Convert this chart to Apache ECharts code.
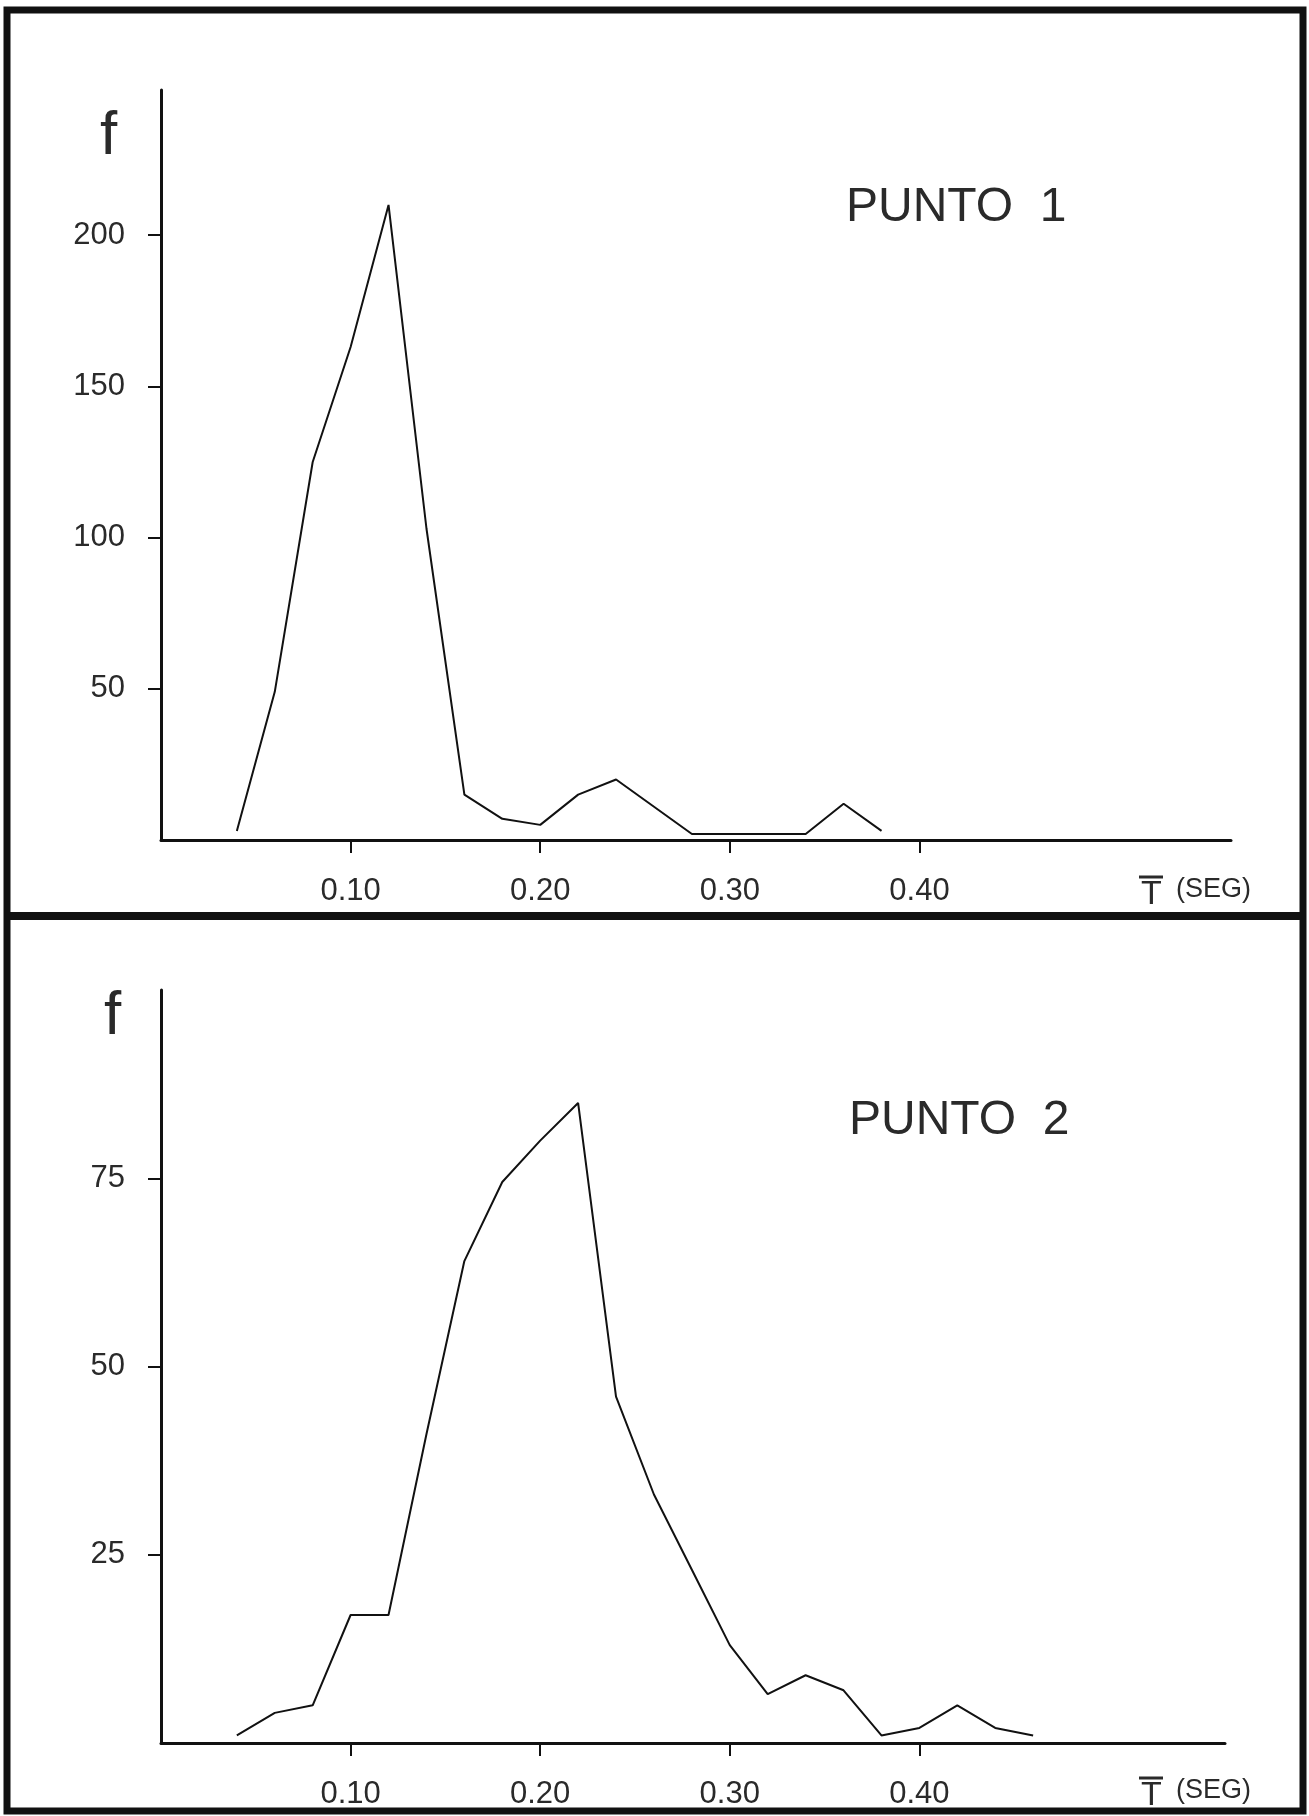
<!DOCTYPE html>
<html>
<head>
<meta charset="utf-8">
<title>PUNTO 1 / PUNTO 2</title>
<script src="https://cdn.jsdelivr.net/npm/echarts@6/dist/echarts.min.js"></script>
<style>
  html, body { margin: 0; padding: 0; background: #fff; }
  #chart { width: 1309px; height: 1816px; }
</style>
</head>
<body>
<div id="chart"></div>
<script>
  // periodo medio T (seg) y frecuencia f, punto 1
  const periodo1 = [0.04, 0.06, 0.08, 0.10, 0.12, 0.14, 0.16, 0.18, 0.20, 0.22, 0.24, 0.26, 0.28, 0.30, 0.32, 0.34, 0.36, 0.38];
  const frec1 = [3, 49, 125, 163, 210, 103, 15, 7, 5, 15, 20, 11, 2, 2, 2, 2, 12, 3];

  // punto 2
  const periodo2 = [0.04, 0.06, 0.08, 0.10, 0.12, 0.14, 0.16, 0.18, 0.20, 0.22, 0.24, 0.26, 0.28, 0.30, 0.32, 0.34, 0.36, 0.38, 0.40, 0.42, 0.44, 0.46];
  const frec2 = [1, 4, 5, 17, 17, 41, 64, 74.5, 80, 85, 46, 33, 23, 13, 6.5, 9, 7, 1, 2, 5, 2, 1];

  // marcas de los ejes
  const ticksT = [0.1, 0.2, 0.3, 0.4];
  const ticksF1 = [50, 100, 150, 200];
  const ticksF2 = [25, 50, 75];

  const ink = '#111';
  const txt = '#2a2a2a';
  const fuente = '"Liberation Sans", Arial, sans-serif';
  const fina = '"DejaVu Sans ExtraLight", "Liberation Sans Narrow", "Liberation Sans", sans-serif';

  function pares(xs, ys) {
    return xs.map(function(x, i) { return [x, ys[i]]; });
  }

  function ejeX(idx, max) {
    return {
      type: 'value', gridIndex: idx, min: 0, max: max,
      axisLine: { show: true, onZero: false, lineStyle: { color: ink, width: 3 } },
      axisTick: { show: true, customValues: ticksT, length: 13, lineStyle: { color: ink, width: 2 } },
      axisLabel: {
        customValues: ticksT, margin: 36, color: txt, fontSize: 31, fontFamily: fuente,
        formatter: function(v) { return v.toFixed(2); }
      },
      splitLine: { show: false }
    };
  }

  function ejeY(idx, max, ticks) {
    return {
      type: 'value', gridIndex: idx, min: 0, max: max,
      axisLine: { show: true, lineStyle: { color: ink, width: 3 } },
      axisTick: { show: true, customValues: ticks, length: 13, lineStyle: { color: ink, width: 2 } },
      axisLabel: { customValues: ticks, margin: 36, color: txt, fontSize: 31, fontFamily: fuente },
      splitLine: { show: false }
    };
  }

  function serie(idx, datos) {
    return {
      type: 'line', xAxisIndex: idx, yAxisIndex: idx,
      data: datos, symbol: 'none', smooth: false, silent: true,
      lineStyle: { color: ink, width: 2 }
    };
  }

  // etiqueta T con barra encima y (SEG)
  function etiquetaT(dy) {
    return [
      { type: 'line', shape: { x1: 1139, y1: 877 + dy, x2: 1163, y2: 877 + dy },
        style: { stroke: txt, lineWidth: 3 } },
      { type: 'text', left: 1141, top: 878 + dy,
        style: { text: 'T', font: '34px ' + fuente, fill: txt } },
      { type: 'text', x: 1176, y: 890 + dy,
        style: { text: '(SEG)', font: '27px ' + fuente, fill: txt, verticalAlign: 'middle' } }
    ];
  }

  const myChart = echarts.init(document.getElementById('chart'));

  let option = {
    backgroundColor: '#fff',
    animation: false,
    grid: [
      { left: 161, top: 90, width: 1070, height: 750 },
      { left: 161, top: 990, width: 1064, height: 753 }
    ],
    xAxis: [ejeX(0, 0.5643), ejeX(1, 0.5612)],
    yAxis: [ejeY(0, 248, ticksF1), ejeY(1, 100, ticksF2)],
    series: [serie(0, pares(periodo1, frec1)), serie(1, pares(periodo2, frec2))],
    graphic: [
      // marco exterior y separador
      { type: 'rect', shape: { x: 7, y: 10, width: 1296, height: 1801 },
        style: { fill: 'none', stroke: ink, lineWidth: 7 } },
      { type: 'line', shape: { x1: 7, y1: 916, x2: 1303, y2: 916 },
        style: { stroke: ink, lineWidth: 8 } },
      // f
      { type: 'text', left: 100, top: 106,
        style: { text: 'f', font: '62px ' + fina, fill: txt } },
      { type: 'text', left: 104, top: 986,
        style: { text: 'f', font: '62px ' + fina, fill: txt } },
      // titulos
      { type: 'text', left: 846, top: 184,
        style: { text: 'PUNTO  1', font: '48px ' + fuente, fill: txt } },
      { type: 'text', left: 849, top: 1097,
        style: { text: 'PUNTO  2', font: '48px ' + fuente, fill: txt } }
    ].concat(etiquetaT(0), etiquetaT(901))
  };

  myChart.setOption(option);
</script>
</body>
</html>
